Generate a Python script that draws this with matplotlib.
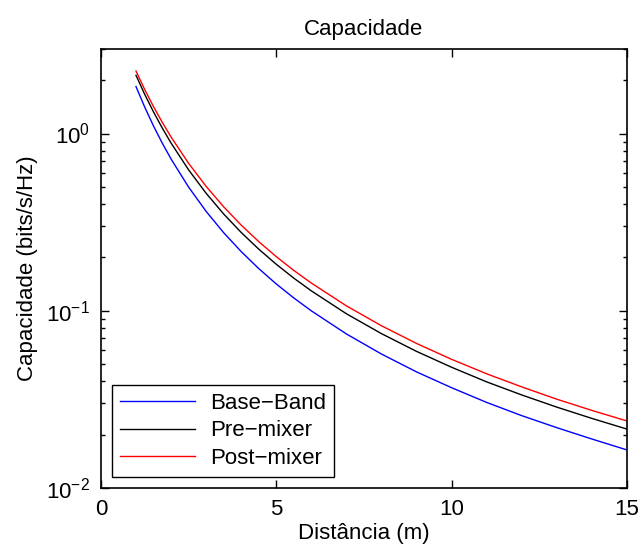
import matplotlib
matplotlib.use('Agg')
import matplotlib.pyplot as plt
from matplotlib.ticker import LogLocator

plt.rcParams['font.family'] = ['Liberation Sans', 'DejaVu Sans']
plt.rcParams['mathtext.fontset'] = 'custom'
plt.rcParams['mathtext.rm'] = 'Liberation Sans'
plt.rcParams['mathtext.it'] = 'Liberation Sans'

# Distance (m) and capacity (bits/s/Hz)
distance = [1, 1.25, 1.5, 1.75, 2, 2.5, 3, 3.5, 4, 4.5, 5, 5.5, 6, 7, 8,
            9, 10, 11, 12, 13, 14, 15]
base_band = [1.84, 1.407, 1.102, 0.8815, 0.718, 0.4985, 0.3637, 0.2757,
             0.2157, 0.1730, 0.1417, 0.1181, 0.0999, 0.0740, 0.0570,
             0.0452, 0.0368, 0.0304, 0.0256, 0.0219, 0.0189, 0.0164]
pre_mixer = [2.13, 1.661, 1.323, 1.073, 0.8837, 0.6237, 0.4601, 0.3516,
             0.2765, 0.2227, 0.1830, 0.1528, 0.1295, 0.0962, 0.0743,
             0.0590, 0.0480, 0.0397, 0.0335, 0.0286, 0.0247, 0.0215]
post_mixer = [2.25, 1.768, 1.417, 1.155, 0.9556, 0.6791, 0.5033, 0.3859,
              0.3043, 0.2456, 0.2020, 0.1689, 0.1433, 0.1066, 0.0823,
              0.0654, 0.0532, 0.0441, 0.0372, 0.0317, 0.0274, 0.0239]
labels = ['Base\u2212Band', 'Pre\u2212mixer', 'Post\u2212mixer']
colors = ['#0000ff', '#000000', '#ff0000']

fig = plt.figure(figsize=(6.43, 5.56), dpi=100)
ax = fig.add_axes([0.157, 0.1223, 0.818, 0.7896])

for y, lab, c in zip([base_band, pre_mixer, post_mixer], labels, colors):
    ax.semilogy(distance, y, color=c, lw=1.0, label=lab)

ax.set_xlim(0, 15)
ax.set_ylim(0.01, 3.0)
ax.set_xticks([0, 5, 10, 15])
ax.yaxis.set_major_locator(LogLocator(base=10, numticks=10))
ax.yaxis.set_minor_locator(LogLocator(base=10, subs=range(2, 10), numticks=10))

ax.tick_params(which='both', direction='in', top=True, right=True,
               labelsize=16, width=1.0)
ax.tick_params(which='major', length=6, pad=8)
ax.tick_params(which='minor', length=3)
for s in ax.spines.values():
    s.set_linewidth(1.2)

ax.set_title('Capacidade', fontsize=16, pad=10)
ax.set_xlabel('Distância (m)', fontsize=16, labelpad=2)
ax.set_ylabel('Capacidade (bits/s/Hz)', fontsize=16, labelpad=6)

leg = ax.legend(loc='lower left', fontsize=16, fancybox=False,
                edgecolor='black', framealpha=1, handlelength=3.4,
                handletextpad=0.65, borderaxespad=0.5, labelspacing=0.3,
                borderpad=0.35)
leg.get_frame().set_linewidth(1.0)

fig.savefig('out.png', dpi=100)
plt.close()
